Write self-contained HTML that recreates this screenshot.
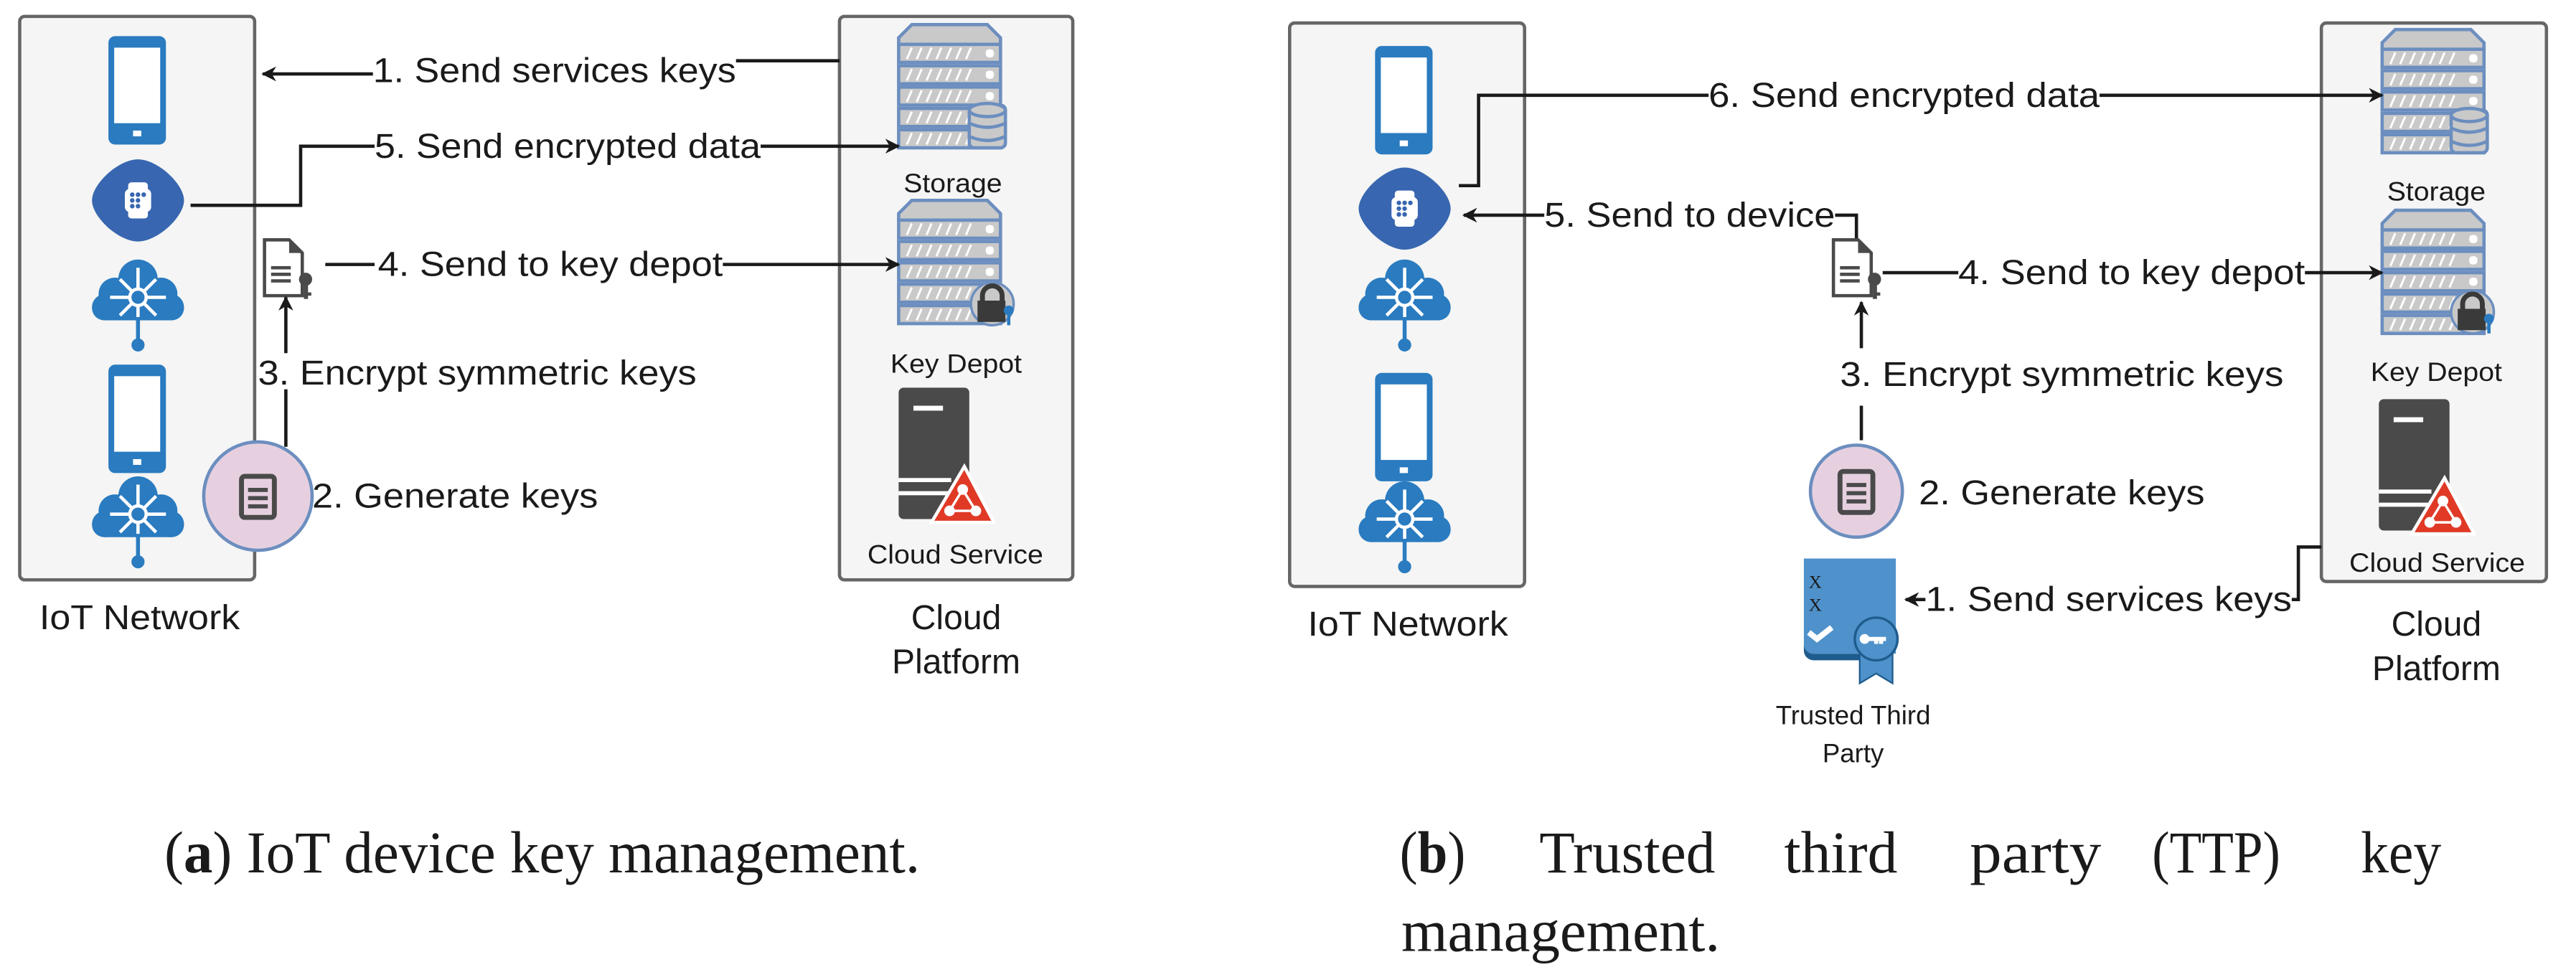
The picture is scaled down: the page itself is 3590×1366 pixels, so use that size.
<!DOCTYPE html>
<html><head><meta charset="utf-8"><style>
html,body{margin:0;padding:0;background:#fff;}
svg{display:block}
text{font-family:"Liberation Sans",sans-serif;fill:#1a1a1a}
.s{font-family:"Liberation Serif",serif}
</style></head><body>
<svg width="3590" height="1366" viewBox="0 0 1568 596.6" preserveAspectRatio="none" xmlns="http://www.w3.org/2000/svg">
<defs>
<marker id="ar" viewBox="0 0 10 10" refX="9" refY="5" markerWidth="4.5" markerHeight="4.5" orient="auto"><path d="M0,0 L10,5 L0,10 L3,5 z" fill="#1a1a1a"/></marker>
<g id="phone"><rect x="0" y="0" width="35" height="66" rx="4" fill="#2a7bc0"/><rect x="3.5" y="7" width="28" height="46" fill="#fff"/><rect x="15" y="57.5" width="5" height="3.5" fill="#fff"/></g>
<g id="watch"><path d="M0,-25 C12,-25 28,-10 28,0 C28,10 12,25 0,25 C-12,25 -28,10 -28,0 C-28,-10 -12,-25 0,-25z" fill="#3866b0"/><rect x="-6" y="-11" width="12" height="22" rx="2" fill="#fff"/><rect x="-8" y="-7" width="16" height="14" rx="3" fill="#fff"/><g fill="#3866b0"><circle cx="-3.5" cy="-3.5" r="1.4"/><circle cx="0" cy="-3.5" r="1.4"/><circle cx="3.5" cy="-3.5" r="1.4"/><circle cx="-3.5" cy="0" r="1.4"/><circle cx="0" cy="0" r="1.4"/><circle cx="-3.5" cy="3.5" r="1.4"/><circle cx="0" cy="3.5" r="1.4"/></g></g>
<g id="cloud"><g fill="#2a7bc0"><circle cx="0" cy="-10" r="12"/><circle cx="-14" cy="-1" r="10"/><circle cx="14" cy="-1" r="10"/><circle cx="-20" cy="7" r="8"/><circle cx="20" cy="7" r="8"/><rect x="-28" y="0" width="56" height="15" rx="7.5"/><rect x="-1.2" y="14" width="2.4" height="14"/><circle cx="0" cy="30" r="4"/></g><g stroke="#fff" stroke-width="2" fill="none"><circle cx="0" cy="1" r="5"/><path d="M0,-4V-17M0,6V13M-5,1H-17M5,1H17M-4,-3L-11,-10M4,-3L11,-10M-4,5L-11,12M4,5L11,12"/></g></g>
<g id="rack"><path d="M6,0H52L60,8V12H-2V8Z" fill="#c9c9c9" stroke="#6c8ebf" stroke-width="2"/><g fill="#c9c9c9" stroke="#6c8ebf" stroke-width="2"><rect x="-2" y="12" width="62" height="11"/><rect x="-2" y="25" width="62" height="11"/><rect x="-2" y="38" width="62" height="11"/><rect x="-2" y="51" width="62" height="11"/><rect x="-2" y="64" width="62" height="11"/></g><g fill="#fff"><rect x="51" y="15" width="5" height="5" rx="2"/><rect x="51" y="28" width="5" height="5" rx="2"/><rect x="51" y="41" width="5" height="5" rx="2"/><rect x="51" y="54" width="5" height="5" rx="2"/><rect x="51" y="67" width="5" height="5" rx="2"/></g><g stroke="#fff" stroke-width="1.3"><path d="M3,21l3,-7M9,21l3,-7M15,21l3,-7M21,21l3,-7M27,21l3,-7M33,21l3,-7M39,21l3,-7M3,34l3,-7M9,34l3,-7M15,34l3,-7M21,34l3,-7M27,34l3,-7M33,34l3,-7M39,34l3,-7M3,47l3,-7M9,47l3,-7M15,47l3,-7M21,47l3,-7M27,47l3,-7M33,47l3,-7M39,47l3,-7M3,60l3,-7M9,60l3,-7M15,60l3,-7M21,60l3,-7M27,60l3,-7M33,60l3,-7M39,60l3,-7M3,73l3,-7M9,73l3,-7M15,73l3,-7M21,73l3,-7M27,73l3,-7M33,73l3,-7M39,73l3,-7"/></g></g>
<g id="db"><g fill="#c9c9c9" stroke="#6c8ebf" stroke-width="2"><rect x="0" y="0" width="22" height="26" rx="3"/><ellipse cx="11" cy="3" rx="11" ry="4"/><path d="M0,11 q11,5 22,0M0,19 q11,5 22,0" fill="none"/></g></g>
<g id="lock"><circle cx="12" cy="12" r="13" fill="#c9c9c9" stroke="#6c8ebf" stroke-width="1.5"/><path d="M6,11V7a6,6 0 0 1 12,0V11" fill="none" stroke="#3a3a3a" stroke-width="3"/><rect x="3" y="10" width="17" height="13" fill="#3a3a3a"/><circle cx="22" cy="16" r="3" fill="#2a7bc0"/><rect x="21" y="17" width="2" height="8" fill="#2a7bc0"/></g>
<g id="srv"><rect x="0" y="0" width="43" height="80" rx="3" fill="#4a4a4a"/><rect x="9" y="11" width="18" height="3" fill="#fff"/><rect x="0" y="55" width="32" height="2.5" fill="#fff"/><rect x="0" y="63" width="30" height="2.5" fill="#fff"/><path d="M40,48 L58,82 H20 Z" fill="#e03a26" stroke="#fff" stroke-width="2"/><g stroke="#fff" stroke-width="1.5" fill="#fff"><path d="M39,62 L31,75 H47 Z" fill="none"/><circle cx="39" cy="62" r="2.5"/><circle cx="31" cy="75" r="2.5"/><circle cx="47" cy="75" r="2.5"/></g></g>
<g id="doc"><path d="M1,1H16L24,9V35H1Z" fill="#fff" stroke="#4a4a4a" stroke-width="2"/><path d="M16,1V9H24Z" fill="#4a4a4a"/><g fill="#4a4a4a"><rect x="5" y="17" width="12" height="2"/><rect x="5" y="21" width="12" height="2"/><rect x="5" y="25" width="12" height="2"/><circle cx="26" cy="25" r="4"/><rect x="25" y="27" width="2.5" height="10"/><rect x="27" y="33" width="2.5" height="2"/></g></g>
<g id="gen"><rect x="-10" y="-12" width="20" height="25" rx="2" fill="none" stroke="#4a4a4a" stroke-width="3"/><g fill="#4a4a4a"><rect x="-6" y="-5" width="12" height="2.5"/><rect x="-6" y="0" width="12" height="2.5"/><rect x="-6" y="5" width="12" height="2.5"/></g></g>
</defs>

<!-- ===== Panel A ===== -->
<rect x="12" y="10" width="143" height="343" rx="3" fill="#f4f5f4" stroke="#666" stroke-width="2"/>
<rect x="511" y="10" width="142" height="343" rx="3" fill="#f4f5f4" stroke="#666" stroke-width="2"/>
<use href="#phone" x="66" y="22"/>
<use href="#watch" x="84" y="122"/>
<use href="#cloud" x="84" y="180"/>
<use href="#phone" x="66" y="222"/>
<use href="#cloud" x="84" y="312"/>
<text x="24" y="383" font-size="21" textLength="122" lengthAdjust="spacingAndGlyphs">IoT Network</text>

<use href="#rack" x="549" y="15"/>
<use href="#db" x="590" y="64"/>
<text x="550" y="117" font-size="16" textLength="60" lengthAdjust="spacingAndGlyphs">Storage</text>
<use href="#rack" x="549" y="122"/>
<use href="#lock" x="592" y="173"/>
<text x="542" y="227" font-size="16" textLength="80" lengthAdjust="spacingAndGlyphs">Key Depot</text>
<use href="#srv" x="547" y="236"/>
<text x="528" y="343" font-size="16" textLength="107" lengthAdjust="spacingAndGlyphs">Cloud Service</text>
<text x="582" y="383" font-size="21" text-anchor="middle">Cloud</text>
<text x="582" y="410" font-size="21" text-anchor="middle">Platform</text>

<path d="M511,37H448" stroke="#1a1a1a" stroke-width="2" fill="none"/>
<path d="M227,45H160" stroke="#1a1a1a" stroke-width="2" fill="none" marker-end="url(#ar)"/>
<text x="227" y="50" font-size="21" textLength="221" lengthAdjust="spacingAndGlyphs">1. Send services keys</text>
<path d="M116,125H183V89H228" stroke="#1a1a1a" stroke-width="2" fill="none"/>
<text x="228" y="96" font-size="21" textLength="235" lengthAdjust="spacingAndGlyphs">5. Send encrypted data</text>
<path d="M463,89H547" stroke="#1a1a1a" stroke-width="2" fill="none" marker-end="url(#ar)"/>
<use href="#doc" x="160" y="145"/>
<path d="M198,161H228" stroke="#1a1a1a" stroke-width="2" fill="none"/>
<text x="230" y="168" font-size="21" textLength="210" lengthAdjust="spacingAndGlyphs">4. Send to key depot</text>
<path d="M440,161H547" stroke="#1a1a1a" stroke-width="2" fill="none" marker-end="url(#ar)"/>
<path d="M174,215V181" stroke="#1a1a1a" stroke-width="2" fill="none" marker-end="url(#ar)"/>
<text x="157" y="234" font-size="21" textLength="267" lengthAdjust="spacingAndGlyphs">3. Encrypt symmetric keys</text>
<path d="M174,237V272" stroke="#1a1a1a" stroke-width="2" fill="none"/>
<circle cx="157" cy="302" r="33" fill="#e6d0e0" stroke="#6c8ebf" stroke-width="2"/>
<use href="#gen" x="157" y="302"/>
<text x="190" y="309" font-size="21" textLength="174" lengthAdjust="spacingAndGlyphs">2. Generate keys</text>

<text class="s" x="100" y="531" font-size="36" textLength="460" lengthAdjust="spacingAndGlyphs">(<tspan font-weight="bold">a</tspan>) IoT device key management.</text>

<!-- ===== Panel B ===== -->
<rect x="785" y="14" width="143" height="343" rx="3" fill="#f4f5f4" stroke="#666" stroke-width="2"/>
<rect x="1413" y="14" width="137" height="340" rx="3" fill="#f4f5f4" stroke="#666" stroke-width="2"/>
<use href="#phone" x="837" y="28"/>
<use href="#watch" x="855" y="127"/>
<use href="#cloud" x="855" y="180"/>
<use href="#phone" x="837" y="227"/>
<use href="#cloud" x="855" y="315"/>
<text x="796" y="387" font-size="21" textLength="122" lengthAdjust="spacingAndGlyphs">IoT Network</text>

<use href="#rack" x="1452" y="18"/>
<use href="#db" x="1492" y="67"/>
<text x="1453" y="122" font-size="16" textLength="60" lengthAdjust="spacingAndGlyphs">Storage</text>
<use href="#rack" x="1452" y="128"/>
<use href="#lock" x="1493" y="178"/>
<text x="1443" y="232" font-size="16" textLength="80" lengthAdjust="spacingAndGlyphs">Key Depot</text>
<use href="#srv" x="1448" y="243"/>
<text x="1430" y="348" font-size="16" textLength="107" lengthAdjust="spacingAndGlyphs">Cloud Service</text>
<text x="1483" y="387" font-size="21" text-anchor="middle">Cloud</text>
<text x="1483" y="414" font-size="21" text-anchor="middle">Platform</text>

<path d="M888,113H900V58H1040" stroke="#1a1a1a" stroke-width="2" fill="none"/>
<text x="1040" y="65" font-size="21" textLength="238" lengthAdjust="spacingAndGlyphs">6. Send encrypted data</text>
<path d="M1278,58H1450" stroke="#1a1a1a" stroke-width="2" fill="none" marker-end="url(#ar)"/>
<path d="M940,131H891" stroke="#1a1a1a" stroke-width="2" fill="none" marker-end="url(#ar)"/>
<text x="940" y="138" font-size="21" textLength="177" lengthAdjust="spacingAndGlyphs">5. Send to device</text>
<path d="M1117,131H1130V146" stroke="#1a1a1a" stroke-width="2" fill="none"/>
<use href="#doc" x="1115" y="145"/>
<path d="M1146,166H1192" stroke="#1a1a1a" stroke-width="2" fill="none"/>
<text x="1192" y="173" font-size="21" textLength="211" lengthAdjust="spacingAndGlyphs">4. Send to key depot</text>
<path d="M1403,166H1450" stroke="#1a1a1a" stroke-width="2" fill="none" marker-end="url(#ar)"/>
<path d="M1133,212V184" stroke="#1a1a1a" stroke-width="2" fill="none" marker-end="url(#ar)"/>
<text x="1120" y="235" font-size="21" textLength="270" lengthAdjust="spacingAndGlyphs">3. Encrypt symmetric keys</text>
<path d="M1133,247V268" stroke="#1a1a1a" stroke-width="2" fill="none"/>
<circle cx="1130" cy="299" r="28" fill="#e6d0e0" stroke="#6c8ebf" stroke-width="2"/>
<use href="#gen" x="1130" y="299"/>
<text x="1168" y="307" font-size="21" textLength="174" lengthAdjust="spacingAndGlyphs">2. Generate keys</text>

<!-- certificate -->
<path d="M1098,340H1154V398H1104a6,6 0 0 1 -6,-6Z" fill="#4f92cb"/>
<path d="M1098,392a6,6 0 0 0 6,6H1140V402H1104a6,6 0 0 1 -6,-6Z" fill="#1f5c8e"/>
<text x="1101" y="358" font-size="11" fill="#2a7bc0" class="s">X</text>
<text x="1101" y="372" font-size="11" fill="#2a7bc0" class="s">X</text>
<path d="M1101,385l5,4 9,-7" stroke="#fff" stroke-width="3.5" fill="none"/>
<path d="M1132,396V416L1142,410L1152,416V396Z" fill="#4f92cb" stroke="#1f5c8e" stroke-width="1"/>
<circle cx="1142" cy="389" r="13" fill="#4f92cb" stroke="#1f5c8e" stroke-width="1.5"/>
<path d="M1134,389h14M1145,389v3M1142,389v3" stroke="#fff" stroke-width="2.5"/>
<circle cx="1135" cy="389" r="3" fill="#fff"/>
<text x="1128" y="441" font-size="16" text-anchor="middle">Trusted Third</text>
<text x="1128" y="464" font-size="16" text-anchor="middle">Party</text>

<path d="M1413,333H1399V365H1395" stroke="#1a1a1a" stroke-width="2" fill="none"/>
<path d="M1172,365H1160" stroke="#1a1a1a" stroke-width="2" fill="none" marker-end="url(#ar)"/>
<text x="1172" y="372" font-size="21" textLength="223" lengthAdjust="spacingAndGlyphs">1. Send services keys</text>

<g font-size="36">
<text class="s" x="852" y="531" textLength="40" lengthAdjust="spacingAndGlyphs">(<tspan font-weight="bold">b</tspan>)</text>
<text class="s" x="937" y="531" textLength="107" lengthAdjust="spacingAndGlyphs">Trusted</text>
<text class="s" x="1086" y="531" textLength="69" lengthAdjust="spacingAndGlyphs">third</text>
<text class="s" x="1199" y="531" textLength="80" lengthAdjust="spacingAndGlyphs">party</text>
<text class="s" x="1310" y="531" textLength="78" lengthAdjust="spacingAndGlyphs">(TTP)</text>
<text class="s" x="1437" y="531" textLength="49" lengthAdjust="spacingAndGlyphs">key</text>
<text class="s" x="853" y="579" textLength="194" lengthAdjust="spacingAndGlyphs">management.</text>
</g>
</svg>
</body></html>
